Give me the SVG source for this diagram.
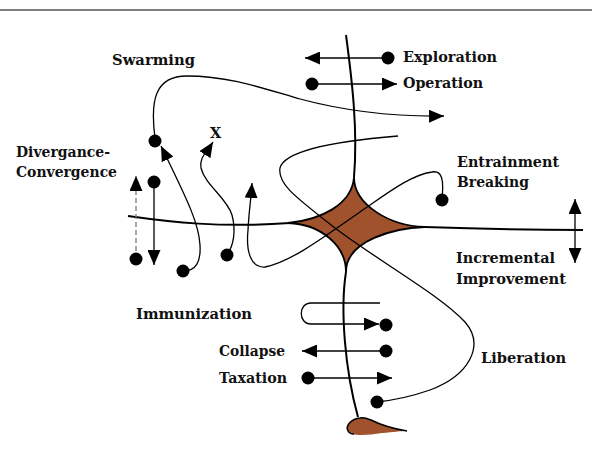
<svg xmlns="http://www.w3.org/2000/svg" width="592" height="453" viewBox="0 0 592 453">
<style>
.lbl{font-family:"DejaVu Serif","Liberation Serif",serif;font-weight:bold;font-size:14.5px;fill:#111}
.axis{fill:none;stroke:#000;stroke-width:2}
.c{fill:none;stroke:#000;stroke-width:1.3}
.dot{fill:#000}
.arr{marker-end:url(#ah)}
</style>
<defs>
<marker id="ah" markerUnits="userSpaceOnUse" markerWidth="15" markerHeight="13" refX="15" refY="6.5" orient="auto-start-reverse" viewBox="0 0 15 13">
<path d="M0,0 L15,6.5 L0,13 Z" fill="#000"/>
</marker>
</defs>
<rect width="592" height="453" fill="#fff"/>
<line x1="0" y1="10" x2="592" y2="10" stroke="#555" stroke-width="1.5"/>

<g id="star">
<path d="M354,177 C354,205 390,226 425,227 C395,228 346,240 346,272 C346,245 320,224 288,223 C320,220 352,205 354,177 Z" fill="#A0522D" stroke="#000" stroke-width="1.8" stroke-linejoin="miter"/>
</g>
<g id="axes">
<path class="axis" d="M346,35 C352,80 358,130 354,177"/>
<path class="axis" d="M346,272 C340,310 345,370 358,417"/>
<path class="axis" d="M128,216 C170,222 220,228 290,223"/>
<path class="axis" d="M425,227 C480,229 540,230 583,230"/>
</g>
<g id="blob">
<path d="M360,418 C352,419 345,425 348,431 C352,437 368,435 382,433 C394,432 400,431 407,431 C395,429 381,425 371,420 C366,418 363,417 360,418 Z" fill="#A0522D"/>
<path d="M407,431 C395,429 381,425 371,420 C366,418 363,417 360,418 C352,419 345,425 348,431 C349,433 351,434 354,434" fill="none" stroke="#000" stroke-width="1.5"/>
</g>

<g id="connectors">
<path id="liberation-curve" class="c" d="M398,136 C350,140 285,148 280,168 C277,185 300,200 335,228 C380,262 440,295 465,322 C485,345 470,375 430,390 C410,397 395,400 377,402"/>
<path id="entrainment-curve" class="c arr" d="M442,198 C444,180 442,170 432,172 C410,175 385,195 360,212 C320,240 290,262 265,267 C250,268 246,250 248,230 C249,210 251,200 252,183"/>
<path id="swarming-curve" class="c arr" d="M155,138 C150,100 155,76 187,76 C230,76 265,89 300,99 C330,107 380,117 444,116"/>
<path id="swarm-return" class="c arr" d="M183,271 C196,271 201,262 200,245 C199,225 190,205 161,146"/>
<path id="x-curve" class="c arr" d="M227,255 C234,245 236,230 232,215 C227,198 205,185 201,168 C199,158 206,153 213,142"/>
<path id="divergence" class="arr" d="M136,259 L136,176" fill="none" stroke="#777" stroke-width="1.3" stroke-dasharray="5,3"/>
<path id="convergence" class="c arr" d="M154,182 L154,265"/>
<path id="exploration" class="c arr" d="M388,58 L305,58"/>
<path id="operation" class="c arr" d="M312,84 L397,84"/>
<path id="incremental" class="c arr" style="marker-start:url(#ah)" d="M575,199 L575,263"/>
<path id="immunization" class="c arr" d="M380,303 L311,303 C298,303 298,324 311,324 L379,324"/>
<path id="collapse" class="c arr" d="M386,351 L302,351"/>
<path id="taxation" class="c arr" d="M308,378 L392,378"/>
</g>

<g id="dots">
<circle class="dot" cx="155" cy="141" r="6.5"/>
<circle class="dot" cx="136" cy="259" r="6.5"/>
<circle class="dot" cx="154" cy="182" r="6.5"/>
<circle class="dot" cx="183" cy="271" r="6.5"/>
<circle class="dot" cx="227" cy="255" r="6.5"/>
<circle class="dot" cx="442" cy="200" r="6.5"/>
<circle class="dot" cx="388" cy="58" r="6.5"/>
<circle class="dot" cx="312" cy="84" r="6.5"/>
<circle class="dot" cx="386" cy="325" r="6.5"/>
<circle class="dot" cx="386" cy="351" r="6.5"/>
<circle class="dot" cx="308" cy="378" r="6.5"/>
<circle class="dot" cx="377" cy="402" r="6.5"/>
</g>

<g id="labels">
<text class="lbl" x="112" y="65" textLength="83" lengthAdjust="spacingAndGlyphs">Swarming</text>
<text class="lbl" x="403" y="62" textLength="94" lengthAdjust="spacingAndGlyphs">Exploration</text>
<text class="lbl" x="403" y="88" textLength="80" lengthAdjust="spacingAndGlyphs">Operation</text>
<text class="lbl" x="210" y="138">X</text>
<text class="lbl" x="16" y="157" textLength="94" lengthAdjust="spacingAndGlyphs">Divergance-</text>
<text class="lbl" x="16" y="177" textLength="101" lengthAdjust="spacingAndGlyphs">Convergence</text>
<text class="lbl" x="457" y="167" textLength="102" lengthAdjust="spacingAndGlyphs">Entrainment</text>
<text class="lbl" x="457" y="187" textLength="72" lengthAdjust="spacingAndGlyphs">Breaking</text>
<text class="lbl" x="456" y="263" textLength="99" lengthAdjust="spacingAndGlyphs">Incremental</text>
<text class="lbl" x="456" y="284" textLength="110" lengthAdjust="spacingAndGlyphs">Improvement</text>
<text class="lbl" x="136" y="319" textLength="116" lengthAdjust="spacingAndGlyphs">Immunization</text>
<text class="lbl" x="219" y="356" textLength="66" lengthAdjust="spacingAndGlyphs">Collapse</text>
<text class="lbl" x="219" y="383" textLength="68" lengthAdjust="spacingAndGlyphs">Taxation</text>
<text class="lbl" x="481" y="363" textLength="85" lengthAdjust="spacingAndGlyphs">Liberation</text>
</g>
</svg>
